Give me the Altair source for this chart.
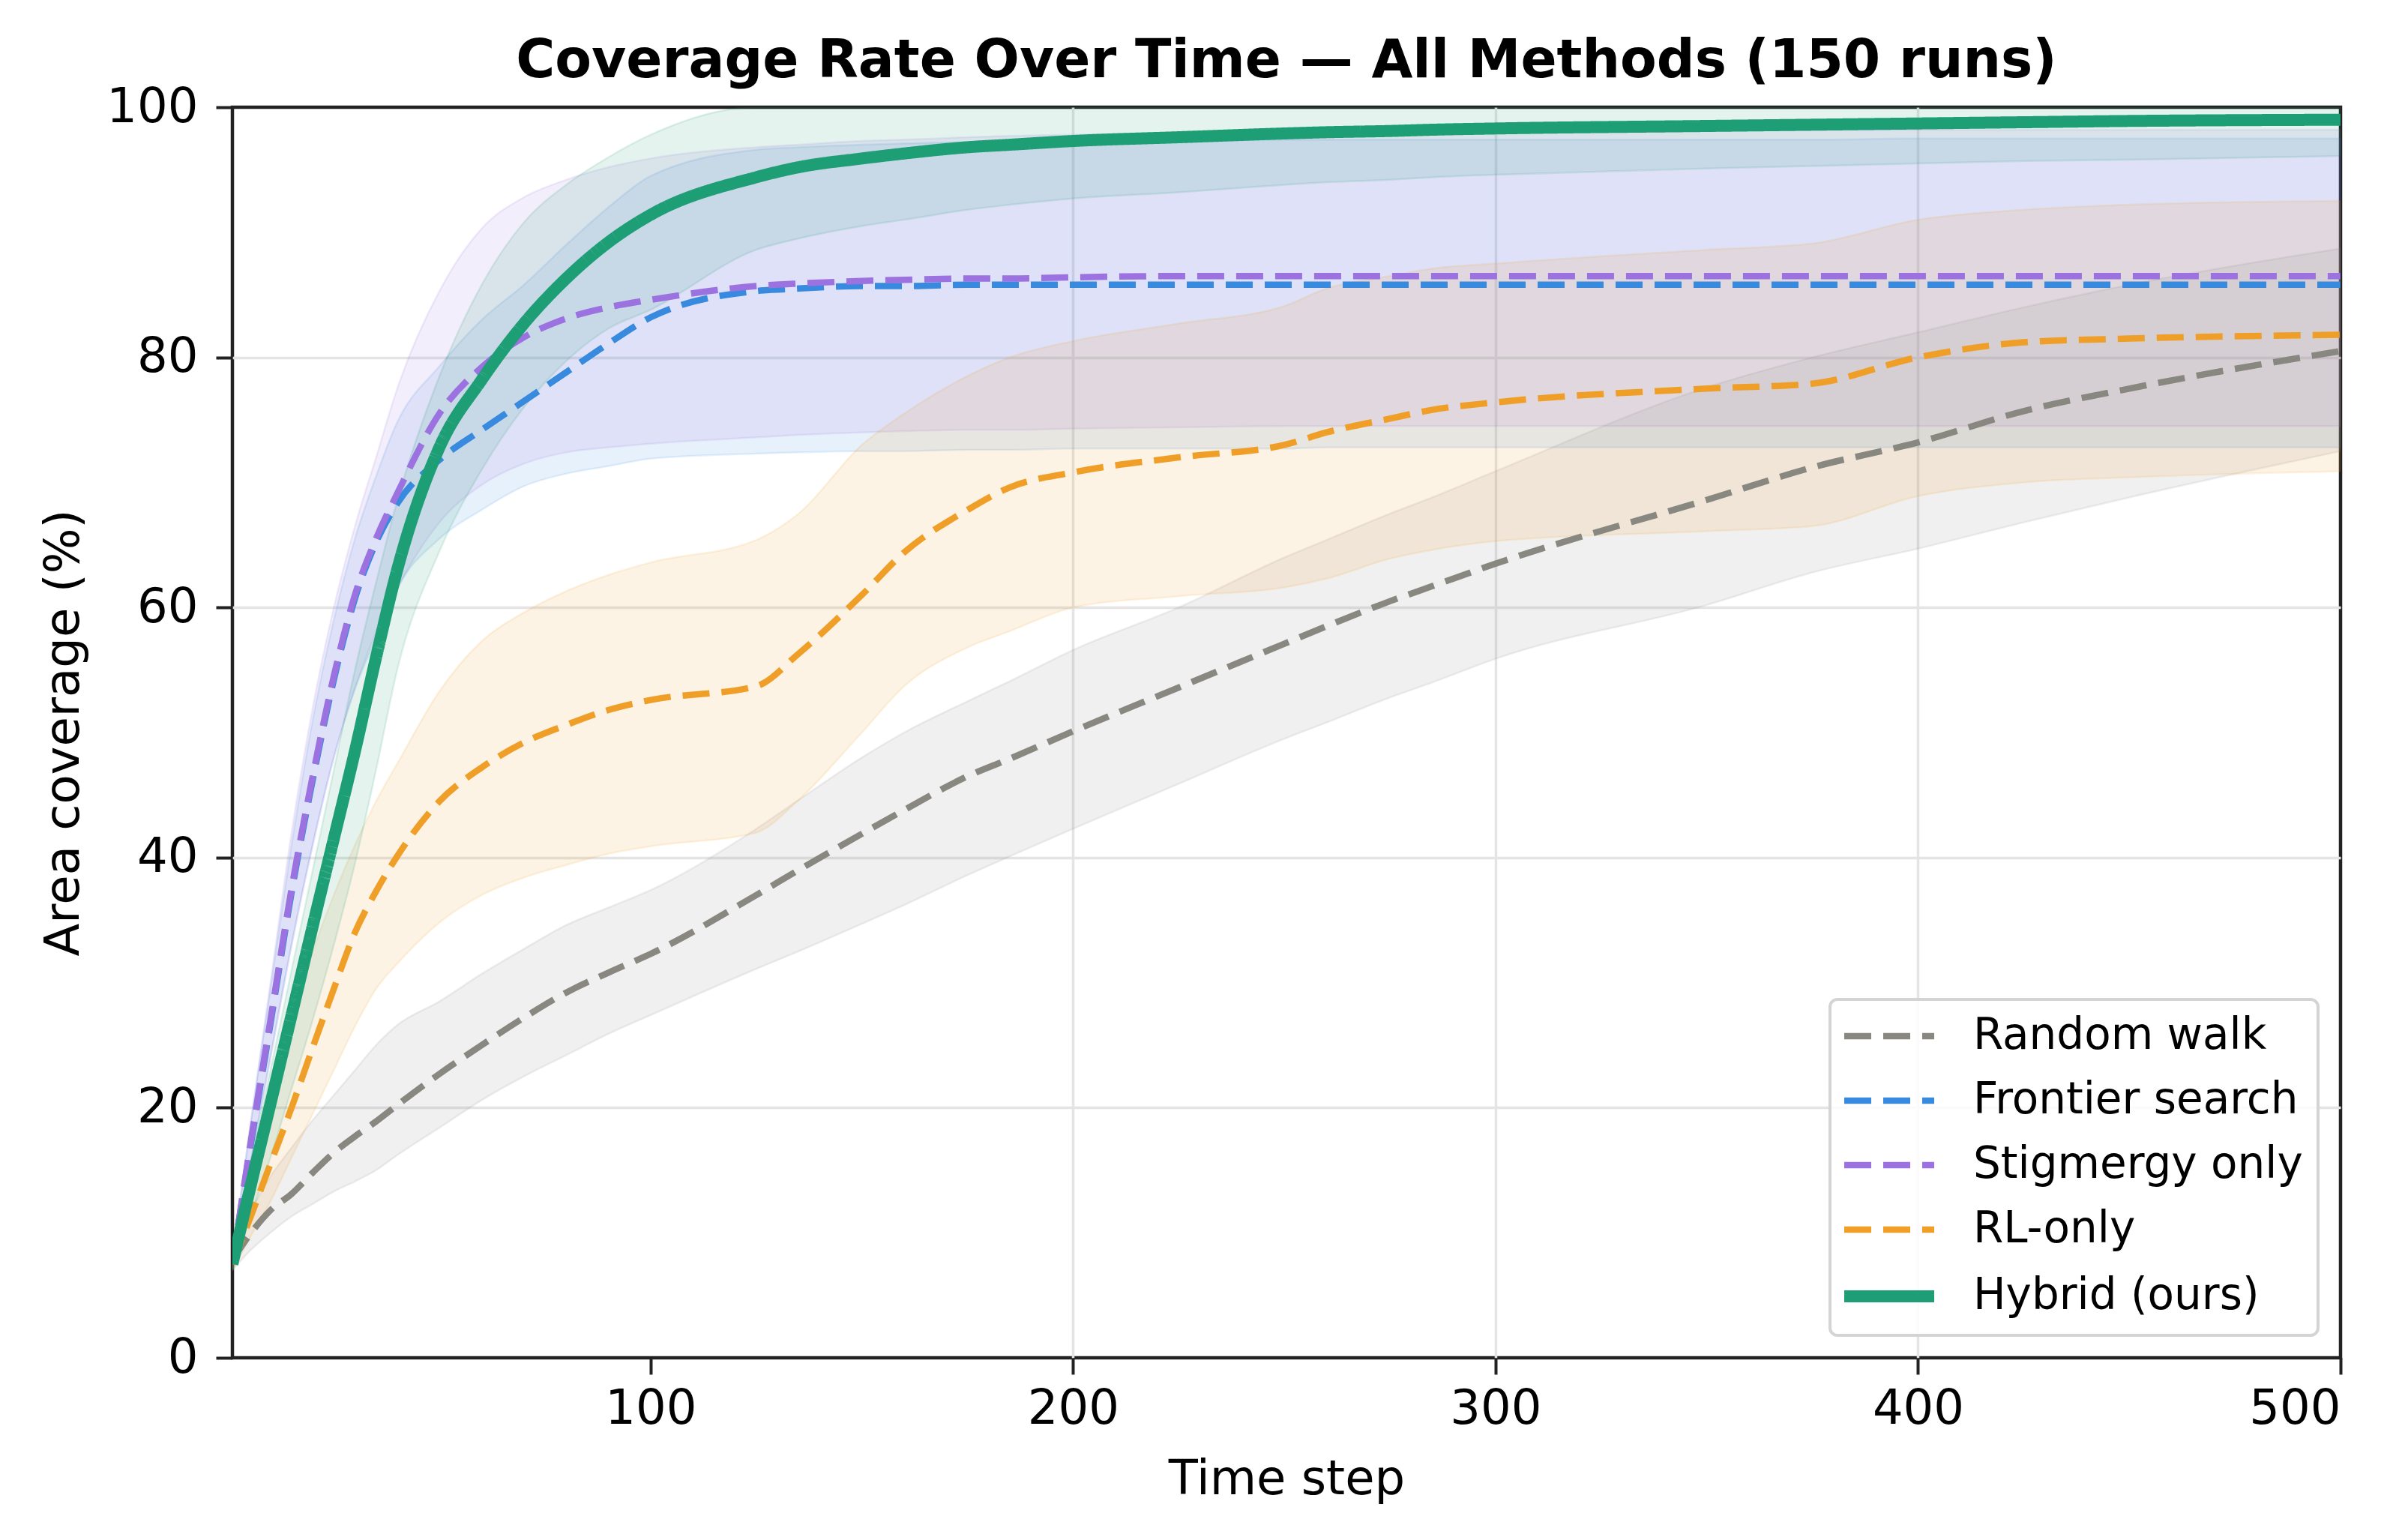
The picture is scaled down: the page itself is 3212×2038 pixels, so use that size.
import altair as alt
import pandas as pd

# ---------------- data ----------------
T = [1, 5, 10, 15, 20, 25, 30, 35, 40, 50, 60, 70, 80, 90, 100, 125, 135, 150,
     160, 175, 185, 200, 225, 250, 260, 275, 285, 300, 350, 375, 400, 425, 450, 500]

methods = ["Random walk", "Frontier search", "Stigmergy only", "RL-only", "Hybrid (ours)"]
colors = ["#888780", "#378ADD", "#9B72E0", "#EF9F27", "#1D9E75"]

random_mean = [7.8, 9.8, 11.8, 13.1, 14.8, 16.4, 17.7, 18.9, 20.2, 22.7, 25.0, 27.2, 29.2, 30.8, 32.3,
               37.0, 39.0, 41.9, 43.8, 46.5, 47.9, 50.1, 53.6, 57.1, 58.5, 60.5, 61.7, 63.5, 68.6,
               71.2, 73.2, 75.7, 77.5, 80.5]
random_hi = [8.5, 11.5, 14.5, 16.8, 19.0, 21.0, 23.0, 25.0, 26.6, 28.5, 30.7, 32.7, 34.6, 36.0, 37.4,
             42.3, 44.6, 48.0, 50.0, 52.5, 54.1, 56.6, 60.0, 64.0, 65.4, 67.5, 68.8, 70.9, 77.6,
             80.0, 82.0, 84.0, 85.8, 88.7]
random_lo = [7.0, 8.5, 10.0, 11.3, 12.3, 13.3, 14.1, 15.0, 16.2, 18.4, 20.6, 22.5, 24.2, 25.9, 27.4,
             31.1, 32.5, 34.7, 36.2, 38.6, 40.1, 42.3, 45.9, 49.5, 50.8, 52.8, 54.0, 55.9, 60.2,
             62.8, 64.7, 66.8, 68.8, 72.5]

frontier_mean = [7.5, 16.3, 26.7, 37.2, 46.2, 54.2, 60.7, 65.2, 68.3, 71.8, 74.2, 76.5, 78.8, 81.1, 83.2,
                 85.3, 85.5, 85.7, 85.7, 85.8, 85.8, 85.8, 85.8, 85.8, 85.8, 85.8, 85.8, 85.8, 85.8,
                 85.8, 85.8, 85.8, 85.8, 85.8]
frontier_hi = [8.0, 18.0, 29.5, 41.0, 51.0, 59.0, 65.5, 70.5, 74.8, 79.3, 83.0, 85.8, 89.0, 92.0, 94.5,
               96.6, 96.8, 97.0, 97.1, 97.2, 97.2, 97.3, 97.3, 97.4, 97.4, 97.4, 97.4, 97.4, 97.4,
               97.4, 97.5, 97.5, 97.5, 97.5]
frontier_lo = [7.0, 15.0, 24.0, 33.0, 41.0, 48.0, 53.5, 57.5, 61.5, 65.5, 67.8, 69.7, 70.7, 71.3, 71.9,
               72.3, 72.4, 72.5, 72.5, 72.6, 72.6, 72.7, 72.7, 72.7, 72.8, 72.8, 72.8, 72.8, 72.8,
               72.8, 72.8, 72.8, 72.8, 72.8]

stig_mean = [7.5, 16.5, 27.0, 37.5, 46.5, 54.5, 61.0, 65.5, 69.1, 75.5, 79.2, 81.6, 83.1, 84.0, 84.6,
             85.7, 85.9, 86.1, 86.2, 86.3, 86.3, 86.4, 86.5, 86.5, 86.5, 86.5, 86.5, 86.5, 86.5,
             86.5, 86.5, 86.5, 86.5, 86.5]
stig_hi = [8.0, 18.0, 30.0, 42.0, 52.0, 60.0, 66.5, 72.0, 77.5, 85.3, 90.3, 92.8, 94.2, 95.2, 95.9,
           96.8, 97.0, 97.3, 97.4, 97.6, 97.7, 97.8, 97.9, 98.0, 98.0, 98.1, 98.1, 98.1, 98.2,
           98.2, 98.2, 98.2, 98.2, 98.2]
stig_lo = [7.0, 15.0, 24.0, 33.0, 41.0, 48.0, 53.5, 58.0, 61.5, 66.8, 69.8, 71.5, 72.4, 72.8, 73.1,
           73.6, 73.8, 74.0, 74.1, 74.2, 74.2, 74.3, 74.4, 74.5, 74.5, 74.5, 74.5, 74.5, 74.5,
           74.5, 74.5, 74.5, 74.5, 74.5]

rl_mean = [7.5, 11.0, 15.5, 20.0, 24.8, 29.5, 34.0, 37.3, 40.1, 44.5, 47.2, 49.2, 50.6, 51.8, 52.6,
           53.7, 56.3, 61.0, 64.4, 67.8, 69.6, 70.8, 72.0, 73.0, 74.0, 75.1, 75.8, 76.4, 77.5,
           77.9, 80.0, 81.2, 81.5, 81.8]
rl_hi = [8.0, 14.5, 21.5, 27.5, 32.5, 37.0, 41.0, 44.5, 47.5, 53.3, 57.3, 59.6, 61.3, 62.6, 63.6,
         65.4, 67.5, 73.0, 75.5, 78.5, 80.0, 81.3, 82.7, 84.1, 85.5, 86.5, 87.1, 87.5, 88.6,
         89.1, 91.0, 91.8, 92.2, 92.5]
rl_lo = [7.0, 9.5, 12.5, 16.0, 19.5, 23.0, 26.5, 29.5, 31.5, 34.8, 37.0, 38.4, 39.4, 40.3, 40.9,
         42.0, 44.6, 50.0, 53.7, 56.8, 58.1, 60.0, 60.9, 61.6, 62.3, 63.9, 64.6, 65.3, 66.1,
         66.5, 68.9, 70.0, 70.4, 70.9]

hybrid_mean = [7.5, 13.3, 20.3, 27.4, 34.5, 41.5, 48.5, 56.0, 63.0, 72.8, 78.2, 82.7, 86.3, 89.2, 91.4,
               94.4, 95.2, 95.9, 96.3, 96.8, 97.0, 97.3, 97.6, 97.9, 98.0, 98.1, 98.2, 98.3, 98.5,
               98.6, 98.7, 98.8, 98.9, 99.0]
# upper edge of the Hybrid band runs into the top of the frame after ~t=120
hybrid_hi = [8.0, 15.0, 23.0, 31.0, 39.0, 47.0, 55.0, 62.0, 68.5, 78.5, 85.8, 90.8, 93.8, 96.0, 97.8,
             100.0, 100.0, 100.0, 100.0, 100.0, 100.0, 100.0, 100.0, 100.0, 100.0, 100.0, 100.0, 100.0,
             100.0, 100.0, 100.0, 100.0, 100.0, 100.0]
hybrid_lo = [7.0, 11.0, 16.0, 21.5, 27.0, 33.0, 39.5, 47.0, 55.0, 64.5, 71.0, 76.0, 79.7, 82.3, 83.8,
             88.6, 89.5, 90.5, 91.0, 91.8, 92.2, 92.7, 93.2, 93.8, 94.0, 94.2, 94.4, 94.6, 95.1,
             95.3, 95.5, 95.7, 95.8, 96.1]

x_ticks = [100, 200, 300, 400, 500]
y_ticks = [0, 20, 40, 60, 80, 100]

series = {
    "Random walk": (random_mean, random_lo, random_hi),
    "Frontier search": (frontier_mean, frontier_lo, frontier_hi),
    "Stigmergy only": (stig_mean, stig_lo, stig_hi),
    "RL-only": (rl_mean, rl_lo, rl_hi),
    "Hybrid (ours)": (hybrid_mean, hybrid_lo, hybrid_hi),
}

rows = []
for m in methods:
    mean, lo, hi = series[m]
    for t, a, b, c in zip(T, mean, lo, hi):
        rows.append({"method": m, "t": t, "mean": a, "lo": b, "hi": c})
df = pd.DataFrame(rows)

FONT = "DejaVu Sans"

# grid lines that would sit on the frame are hidden so the dark frame stays visible
edge_grid = {"condition": {"test": "datum.value == 0 || datum.value == 100 || datum.value == 500",
                           "value": 0}, "value": 1}

xenc = alt.X("t:Q", scale=alt.Scale(domain=[1, 500], nice=False, zero=False),
             axis=alt.Axis(values=x_ticks, title="Time step", gridOpacity=edge_grid))
yscale = alt.Scale(domain=[0, 100], nice=False)
yaxis = alt.Axis(values=y_ticks, title="Area coverage (%)", gridOpacity=edge_grid)

# shaded bands, one layer per method (fixed colours, no legend)
area_layers = []
for m, c in zip(methods, colors):
    area_layers.append(
        alt.Chart(df).transform_filter(alt.datum.method == m).mark_area(
            color=c, fillOpacity=0.12, stroke=c, strokeOpacity=0.13, strokeWidth=2.5,
            interpolate="monotone", clip=True,
        ).encode(
            x=xenc,
            y=alt.Y("lo:Q", scale=yscale, axis=yaxis),
            y2="hi:Q",
        )
    )

line_enc = dict(
    x=xenc,
    y=alt.Y("mean:Q", scale=yscale, axis=yaxis),
    color=alt.Color("method:N", scale=alt.Scale(domain=methods, range=colors), sort=methods,
                    legend=alt.Legend(title=None)),
    strokeDash=alt.StrokeDash("method:N", sort=methods,
                              scale=alt.Scale(domain=methods,
                                              range=[[36, 16], [36, 16], [36, 16], [36, 16], [1, 0]]),
                              legend=alt.Legend(title=None)),
)

lines_base = alt.Chart(df).transform_filter(alt.datum.method != "Hybrid (ours)").mark_line(
    interpolate="monotone", clip=True, strokeWidth=8.5).encode(**line_enc)
line_hybrid = alt.Chart(df).transform_filter(alt.datum.method == "Hybrid (ours)").mark_line(
    interpolate="monotone", clip=True, strokeWidth=16).encode(**line_enc)

chart = alt.layer(*area_layers, lines_base, line_hybrid).properties(
    width=2812,
    height=1668,
    title=alt.TitleParams("Coverage Rate Over Time \u2014 All Methods (150 runs)",
                          font=FONT, fontSize=71, fontWeight="bold", color="#000000",
                          anchor="middle", offset=-7),
    autosize=alt.AutoSizeParams(type="none"),
    padding={"left": 302, "top": 135, "right": 80, "bottom": 206},
).configure_view(
    stroke="#222222", strokeWidth=4.5
).configure_axis(
    labelFont=FONT, labelFontSize=64, labelColor="#000000",
    titleFont=FONT, titleFontSize=64, titleFontWeight="normal", titleColor="#000000",
    domain=False, tickColor="#222222", tickWidth=4, tickSize=22,
    gridColor="#e4e4e4", gridWidth=3.5,
).configure_axisX(
    labelPadding=14, titlePadding=30,
).configure_axisY(
    labelPadding=24, titlePadding=24,
).configure_legend(
    orient="bottom-right", offset=30,
    labelFont=FONT, labelFontSize=58, labelColor="#000000", labelLimit=0,
    symbolType="M-1,0H3", symbolSize=3600, labelOffset=113,
    symbolStrokeWidth={"expr": "datum.value == 'Hybrid (ours)' ? 16 : 8.5"},
    padding=20, rowPadding=28,
    fillColor="rgba(255,255,255,0.85)", strokeColor="#d4d4d4", strokeWidth=4,
    cornerRadius=10,
)

chart.save("out.html", embed_options={"renderer": "svg", "actions": False})
